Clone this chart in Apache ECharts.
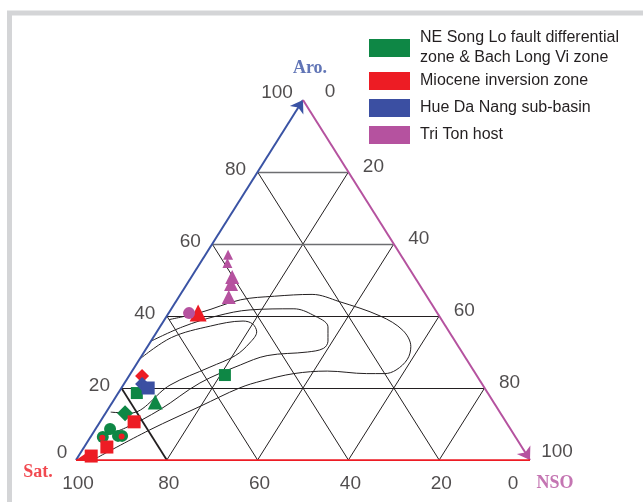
<!DOCTYPE html>
<html>
<head>
<meta charset="utf-8">
<script src="https://cdn.jsdelivr.net/npm/echarts@6/dist/echarts.min.js"></script>
<style>
html,body{margin:0;padding:0;background:#fff}
#main{width:643px;height:502px}
</style>
</head>
<body>
<div id="main"></div>
<script>
// every point is [NSO %, Aro %]; Sat % = 100 - NSO - Aro
var groupNames = [
    'NE Song Lo fault differential\nzone & Bach Long Vi zone',
    'Miocene inversion zone',
    'Hue Da Nang sub-basin',
    'Tri Ton host'
];
var groupColors = ['#0e8745', '#ed1c24', '#3b4fa2', '#b5529f'];

var greenSquare = [[21, 23.6], [4.1, 18.6]];
var greenTriangle = [[9.4, 16.1]];
var greenDiamond = [[4.3, 13]];
var greenCircle = [[3.2, 8.6], [2.7, 6.4], [5.9, 6.7], [6.8, 6.7]];
var redTriangle = [[6.5, 40.8]];
var redDiamond = [[2.9, 23.3]];
var redSquare = [[7.5, 10.6], [5, 3.6], [2.8, 1.1]];
var redDot = [[2.7, 6.2], [6.8, 6.5]];
var blueDiamond = [[4, 21.1]];
var blueSquare = [[5.9, 20]];
var pinkCircle = [[4.5, 40.8]];
var pinkTriangle = [[9, 50.8], [9.7, 48.9], [11, 45.3]];
var pinkTriangleSmall = [[5, 57], [6, 54.7]];

var ticks = [0, 20, 40, 60, 80, 100];

// envelope curves
var curveOuter = [[1, 39], [7, 41], [14, 44.5], [21, 45.5], [29, 46], [36, 44], [47, 40], [54, 36],
    [58, 31.5], [59, 28], [58, 25], [56, 24], [52, 24], [43, 24.7], [36, 24], [30, 22], [26, 20],
    [20, 15], [12, 8.3], [4.3, 0.6]];
var curveMiddle = [[0, 33], [5, 37], [11, 40], [17.5, 41.7], [27, 42], [32, 40.3], [37, 37], [39, 33],
    [39, 31], [36, 30], [27.6, 29], [23, 26.4], [16.6, 21.4], [11.5, 14], [6.4, 8.9], [1.6, 6.1]];
var curveInner = [[0, 28], [4, 34], [11, 37.2], [17.5, 38.6], [20, 37.8], [22, 35.6], [22, 32.5],
    [20.6, 29], [16.6, 25.8], [10.3, 20.8], [5.4, 13], [1, 13.3]];

var chart = echarts.init(document.getElementById('main'));
var font = 'Liberation Sans';
var ink = '#231f20';

function tp(p) {
    return [p[0] + p[1] / 2, p[1]];
}

// grid lines of the triangle
var gridLines = [];
[20, 40, 60, 80].forEach(function (v) {
    gridLines.push({
        coords: [tp([0, v]), tp([100 - v, v])],
        lineStyle: {color: v >= 60 ? '#6d6e71' : ink, width: v >= 60 ? 1.3 : 1}
    });
    gridLines.push({coords: [tp([v, 0]), tp([v, 100 - v])]});
    gridLines.push({
        coords: [tp([100 - v, 0]), tp([0, 100 - v])],
        lineStyle: {width: v == 80 ? 1.8 : 1}
    });
});

var edges = [
    {coords: [tp([0, 0]), tp([0, 100])], lineStyle: {color: '#3a53a4'}},
    {coords: [tp([0, 100]), tp([100, 0])], lineStyle: {color: '#b5529f'}},
    {coords: [tp([100, 0]), tp([0, 0])], lineStyle: {color: '#ed1c24', width: 2.6}}
];

function curveSeries(pts) {
    return {
        type: 'line',
        data: pts.map(tp),
        smooth: 0.35,
        showSymbol: false,
        symbol: 'none',
        silent: true,
        z: 3,
        lineStyle: {color: ink, width: 1}
    };
}

function markSeries(gi, pts, symbol, size, extra) {
    var s = {
        name: groupNames[gi],
        type: 'scatter',
        data: pts.map(tp),
        symbol: symbol,
        symbolSize: size,
        z: 5,
        itemStyle: {color: groupColors[gi], opacity: 1}
    };
    if (extra) Object.assign(s, extra);
    return s;
}

// tick labels on the three edges
var tickLabels = [];
ticks.forEach(function (v) {
    var l = v == 100 ? [-26, -7] : (v == 0 ? [-14, -7] : [-22, -2]);
    tickLabels.push({value: tp([0, v]), label: {formatter: String(v), offset: l}});
    var r = (v == 100 || v == 0) ? [27, -8] : [25, -5];
    tickLabels.push({value: tp([v, 100 - v]), label: {formatter: String(v), offset: r}});
    var b = v == 0 ? [-17, 24] : [2, 24];
    tickLabels.push({value: tp([100 - v, 0]), label: {formatter: String(v), offset: b}});
});

var axisNames = [
    {value: tp([0, 100]), label: {formatter: 'Aro.', offset: [7, -32], color: '#3a53a4'}},
    {value: tp([0, 0]), label: {formatter: 'Sat.', offset: [-38, 12], color: '#ed1c24'}},
    {value: tp([100, 0]), label: {formatter: 'NSO', offset: [25, 23], color: '#b5529f'}}
];

var option = {
    animation: false,
    graphic: [{
        type: 'rect',
        shape: {x: 9.5, y: 13, width: 700, height: 600},
        style: {fill: 'none', stroke: '#d4d5d7', lineWidth: 5},
        z: -1
    }],
    legend: [{
        data: [groupNames[0]],
        left: 364, top: 23,
        orient: 'vertical',
        icon: 'rect', itemWidth: 41, itemHeight: 18,
        selectedMode: false,
        textStyle: {fontFamily: font, fontSize: 16, lineHeight: 20, color: ink, padding: [0, 0, 0, 5]}
    }, {
        data: groupNames.slice(1),
        left: 364, top: 67,
        orient: 'vertical',
        icon: 'rect', itemWidth: 41, itemHeight: 18,
        itemGap: 9,
        selectedMode: false,
        textStyle: {fontFamily: font, fontSize: 16, color: ink, padding: [0, 0, 0, 5]}
    }],
    grid: {left: 76, top: 100, width: 454, height: 360},
    xAxis: {type: 'value', min: 0, max: 100, show: false},
    yAxis: {type: 'value', min: 0, max: 100, show: false},
    series: [
        {
            type: 'lines', coordinateSystem: 'cartesian2d', silent: true, z: 2,
            lineStyle: {color: ink, width: 1, opacity: 1},
            data: gridLines
        },
        {
            type: 'lines', coordinateSystem: 'cartesian2d', silent: true, z: 4,
            symbol: ['none', 'arrow'], symbolSize: 12,
            lineStyle: {width: 2, opacity: 1},
            data: edges
        },
        curveSeries(curveOuter),
        curveSeries(curveMiddle),
        curveSeries(curveInner),
        markSeries(0, greenSquare, 'rect', 12),
        markSeries(0, greenTriangle, 'triangle', 15),
        markSeries(0, greenDiamond, 'diamond', 16),
        markSeries(0, greenCircle, 'circle', 12),
        markSeries(1, redTriangle, 'triangle', 17),
        markSeries(1, redDiamond, 'diamond', 14),
        markSeries(1, redSquare, 'rect', 13),
        markSeries(1, redDot, 'circle', 6, {z: 6}),
        markSeries(2, blueDiamond, 'diamond', 14),
        markSeries(2, blueSquare, 'rect', 13),
        markSeries(3, pinkCircle, 'circle', 12),
        markSeries(3, pinkTriangle, 'triangle', 14),
        markSeries(3, pinkTriangleSmall, 'triangle', 10),
        {
            type: 'scatter', silent: true, symbolSize: 1, z: 7,
            itemStyle: {color: 'transparent'},
            label: {show: true, position: 'inside', fontFamily: font, fontSize: 19, color: ink},
            data: tickLabels
        },
        {
            type: 'scatter', silent: true, symbolSize: 1, z: 7,
            itemStyle: {color: 'transparent'},
            label: {show: true, position: 'inside', fontFamily: 'Liberation Serif', fontWeight: 'bold', fontSize: 18},
            data: axisNames
        }
    ]
};
chart.setOption(option);
</script>
</body>
</html>
